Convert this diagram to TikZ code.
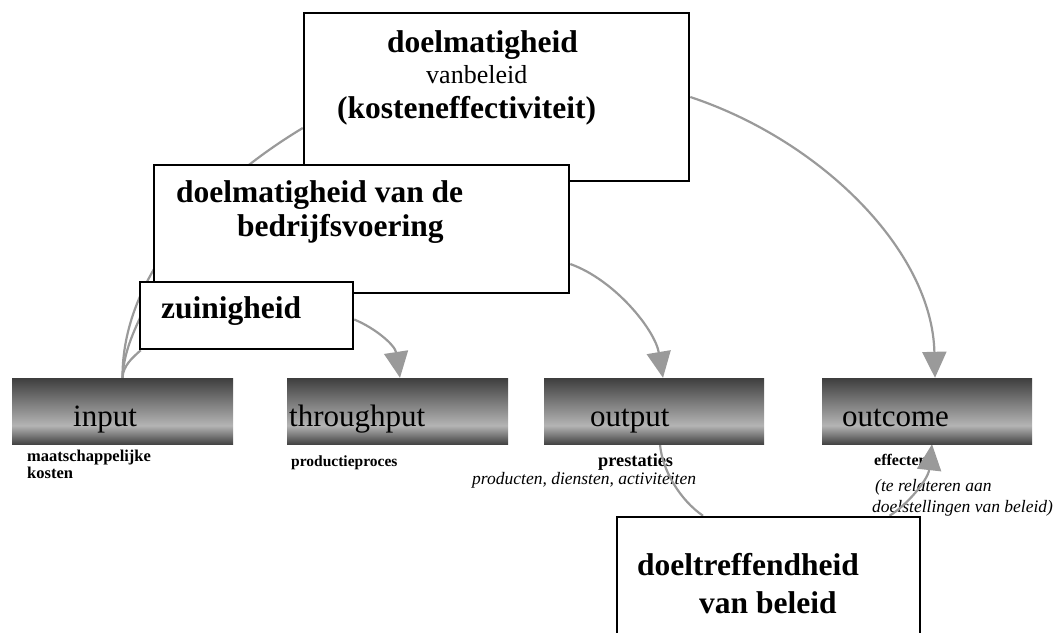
\documentclass[tikz,border=0pt]{standalone}
\usepackage{fontspec}
\setmainfont{Liberation Serif}
\usetikzlibrary{arrows.meta}
\definecolor{bardark}{HTML}{444444}
\definecolor{bartop}{HTML}{3E3E3E}
\definecolor{barlight}{HTML}{B4B4B4}
\definecolor{conngray}{HTML}{9A9A9A}
\pgfdeclareverticalshading{barshade}{100bp}{color(0bp)=(bardark); color(25bp)=(bardark); color(39bp)=(barlight); color(75bp)=(bartop); color(100bp)=(bartop)}
\pgfdeclarelayer{back}
\pgfdeclarelayer{lines}
\pgfsetlayers{back,lines,main}
\begin{document}
\begin{tikzpicture}[x=1pt,y=-1pt,
  box/.style={draw=black, line width=2.5pt, fill=white, inner sep=0pt},
  bar/.style={shade, shading=barshade, inner sep=0pt, minimum height=66pt},
  con/.style={draw=conngray, line width=2.2pt},
  arr/.style={con, -{Triangle[length=26pt,width=24pt]}},
  bigb/.style={font=\fontsize{31.5}{34}\selectfont\bfseries, inner sep=0pt, anchor=base west},
  barlbl/.style={font=\fontsize{31}{34}\selectfont, inner sep=0pt, anchor=base west},
  midr/.style={font=\fontsize{26}{28}\selectfont, inner sep=0pt, anchor=base west},
  smallb/.style={font=\fontsize{16.5}{16}\selectfont\bfseries, inner sep=0pt, anchor=base west},
  smalli/.style={font=\fontsize{17.5}{16}\selectfont\itshape, inner sep=0pt, anchor=base west}]
\useasboundingbox (0,0) rectangle (1056,632);
\clip (0,0) rectangle (1056,632);

% bars
\node[bar, minimum width=221pt] (input) at (122.5,411) {};
\node[bar, minimum width=221pt] (throughput) at (397.5,411) {};
\node[bar, minimum width=220pt] (output) at (654,411) {};
\node[bar, minimum width=210pt] (outcome) at (927,411) {};
\node[barlbl] (tinput) at (73,426) {input};
\node[barlbl] (tthroughput) at (289,426) {throughput};
\node[barlbl] (toutput) at (590,426) {output};
\node[barlbl] (toutcome) at (842,426) {outcome};

% small texts
\begin{pgfonlayer}{back}
\node[smallb] (maat) at (27,461) {maatschappelijke};
\node[smallb] (kost) at (27,478) {kosten};
\node[smallb, font=\fontsize{15.5}{16}\selectfont\bfseries] (prod) at (291,466) {productieproces};
\node[smallb, font=\fontsize{18.3}{18}\selectfont\bfseries] (prest) at (598,466) {prestaties};
\node[smalli] (pda) at (472,484) {producten, diensten, activiteiten};
\node[smallb, font=\fontsize{16}{16}\selectfont\bfseries] (eff) at (874,465) {effecten};
\node[smalli] (terel) at (875,491) {(te relateren aan};
\node[smalli] (doelst) at (872,512) {doelstellingen van beleid)};
\end{pgfonlayer}

% boxes
\node[box, minimum width=385pt, minimum height=168pt] (topbox) at (496.5,97) {};
\node[bigb] (t1) at (387,52) {doelmatigheid};
\node[midr] (t2) at (426,83) {vanbeleid};
\node[bigb] (t3) at (337,118) {(kosteneffectiviteit)};

\node[box, minimum width=415pt, minimum height=128pt] (midbox) at (361.5,229) {};
\node[bigb] (m1) at (176,202) {doelmatigheid van de};
\node[bigb] (m2) at (237,236) {bedrijfsvoering};

\node[box, minimum width=213pt, minimum height=67pt] (zuin) at (246.5,315.5) {};
\node[bigb] (z1) at (161,318) {zuinigheid};

\node[box, minimum width=303pt, minimum height=150pt] (doel) at (768.5,592) {};
\node[bigb] (d1) at (637,575) {doeltreffendheid};
\node[bigb] (d2) at (699,613) {van beleid};

% connectors
\begin{pgfonlayer}{lines}
\draw[con] ([yshift=-31pt]topbox.west) .. controls (200,190) and (122,280) .. (input.north);
\draw[con] ([yshift=-61pt]midbox.west) .. controls (140,320) and (124,345) .. (input.north);
\draw[con] ([xshift=2pt]zuin.south west) .. controls (132,358) and (123,366) .. (input.north);
\draw[arr] ([yshift=-4pt]zuin.east) .. controls (375,328) and (395,345) .. ([xshift=2.5pt]throughput.north);
\draw[arr] ([yshift=-35pt]midbox.east) .. controls (615,280) and (655,330) .. ([xshift=9pt]output.north);
\draw[arr] (topbox.east) .. controls (820,140) and (932,250) .. ([xshift=8pt]outcome.north);
\draw[con] ([xshift=-65.5pt]doel.north) .. controls (680,500) and (662,470) .. ([xshift=6pt]output.south);
\draw[arr] ([xshift=121pt]doel.north) .. controls (907,505) and (928,480) .. ([xshift=5pt]outcome.south);
\end{pgfonlayer}
\end{tikzpicture}
\end{document}
